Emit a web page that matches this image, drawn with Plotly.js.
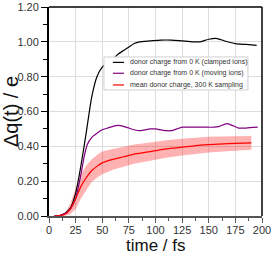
<!DOCTYPE html>
<html>
<head>
<meta charset="utf-8">
<script src="https://cdn.plot.ly/plotly-3.0.1.min.js"></script>
<style>html,body{margin:0;padding:0;background:#fff;}#chart{width:274px;height:254px;}</style>
</head>
<body>
<div id="chart"></div>
<script>
// clamped ions (black)
var tClamped = [5,10,15,20,25,30,35,40,45,50,55,60,65,70,75,80,85,95,105,115,125,135,142,150,157,165,175,185,195];
var qClamped = [0,0.003,0.015,0.045,0.13,0.29,0.48,0.68,0.80,0.855,0.88,0.90,0.93,0.95,0.97,0.99,1.0,1.005,1.01,1.01,1.005,1.0,1.0,1.015,1.02,1.005,0.99,0.985,0.98];
// moving ions (purple)
var tMoving = [5,10,15,20,25,30,33,36,40,45,50,55,60,65,70,75,80,85,90,95,100,105,110,115,120,125,135,145,155,160,167,172,178,185,196];
var qMoving = [0,0.003,0.015,0.04,0.10,0.24,0.34,0.41,0.45,0.475,0.495,0.505,0.515,0.52,0.515,0.505,0.495,0.49,0.495,0.50,0.50,0.495,0.49,0.49,0.50,0.51,0.51,0.51,0.51,0.515,0.53,0.52,0.505,0.505,0.51];
// mean over 300 K sampling (red) and its spread
var tMean = [5,10,15,20,25,30,35,40,45,50,60,70,80,90,100,110,125,140,150,160,175,190];
var qMean = [0,0.002,0.01,0.04,0.10,0.17,0.22,0.26,0.285,0.305,0.325,0.34,0.355,0.365,0.375,0.385,0.395,0.405,0.41,0.413,0.417,0.42];
var qSpread = [0,0.002,0.008,0.03,0.06,0.07,0.07,0.065,0.065,0.065,0.06,0.058,0.055,0.053,0.052,0.05,0.048,0.046,0.045,0.044,0.042,0.04];
var seriesNames = ["donor charge from 0 K (clamped ions)","donor charge from 0 K (moving ions)","mean donor charge, 300 K sampling"];
var seriesColors = ['#000000','#800080','#ff0000'];
var xTicks = [0,25,50,75,100,125,150,175,200];
var yTicks = [0,0.2,0.4,0.6,0.8,1.0,1.2];

var lower = qMean.map(function(v,i){return v - qSpread[i];});
var upper = qMean.map(function(v,i){return v + qSpread[i];});

var traces = [
  {x: tMean, y: lower, mode:'lines', line:{width:0, color:'rgba(0,0,0,0)'}, showlegend:false, hoverinfo:'skip'},
  {x: tMean, y: upper, mode:'lines', line:{width:0, color:'rgba(0,0,0,0)'}, fill:'tonexty', fillcolor:'rgba(255,0,0,0.3)', showlegend:false, hoverinfo:'skip'},
  {x: tClamped, y: qClamped, mode:'lines', name: seriesNames[0], line:{color:seriesColors[0], width:1.2, shape:'spline', smoothing:0.6}},
  {x: tMoving, y: qMoving, mode:'lines', name: seriesNames[1], line:{color:seriesColors[1], width:1.2, shape:'spline', smoothing:0.6}},
  {x: tMean, y: qMean, mode:'lines', name: seriesNames[2], line:{color:seriesColors[2], width:1.2, shape:'spline', smoothing:0.6}}
];

// custom compact legend (box + line samples + text)
var legX0 = 0.258, legX1 = 0.934, legY0 = 0.603, legY1 = 0.761;
var legRows = [0.735, 0.683, 0.627];
var shapes = [
  {type:'line', xref:'paper', yref:'paper', x0:0, x1:1, y0:1, y1:1, line:{color:'#000000', width:1.5}},
  {type:'line', xref:'paper', yref:'paper', x0:1, x1:1, y0:0, y1:1, line:{color:'#000000', width:1.5}},
  {type:'rect', xref:'paper', yref:'paper', x0:legX0, x1:legX1, y0:legY0, y1:legY1, fillcolor:'#ffffff', line:{color:'#d0d0d0', width:1}, layer:'above'}
];
var annotations = [
  {xref:'paper', yref:'paper', x:0.5, y:0, yshift:-19, xanchor:'center', yanchor:'top', showarrow:false, borderpad:0, text:'time / fs', font:{size:17, color:'#111111'}}
];
seriesNames.forEach(function(n,i){
  shapes.push({type:'line', xref:'paper', yref:'paper', x0:0.300, x1:0.352, y0:legRows[i], y1:legRows[i], line:{color:seriesColors[i], width:1.2}, layer:'above'});
  annotations.push({xref:'paper', yref:'paper', x:0.376, y:legRows[i], xanchor:'left', yanchor:'middle', showarrow:false, borderpad:0, text:n, font:{size:7, color:'#333333'}});
});

var layout = {
  width: 274, height: 254,
  margin: {l:49, r:12, t:7, b:38, pad:0},
  paper_bgcolor:'#ffffff', plot_bgcolor:'#ffffff',
  font: {family:'Liberation Sans, Arial, sans-serif', color:'#333333'},
  showlegend: false,
  xaxis: {
    range:[0,200], tickvals: xTicks, ticktext: xTicks.map(String),
    ticks:'outside', ticklen:5, tickwidth:1, tickcolor:'#555555', ticklabelstandoff:-2,
    showline:true, linecolor:'#555555', linewidth:2,
    showgrid:true, gridcolor:'#dddddd', gridwidth:1, zeroline:false,
    tickfont:{size:11, color:'#333333'},
    minor:{ticks:'outside', ticklen:3, tickcolor:'#555555', dtick:12.5, showgrid:false}
  },
  yaxis: {
    range:[0,1.2], tickvals: yTicks, ticktext: yTicks.map(function(v){return v.toFixed(2);}),
    ticks:'outside', ticklen:6, tickwidth:1, tickcolor:'#000000',
    showline:true, linecolor:'#000000', linewidth:2,
    showgrid:true, gridcolor:'#dddddd', gridwidth:1, zeroline:false,
    tickfont:{size:11, color:'#333333'},
    minor:{ticks:'outside', ticklen:4, tickcolor:'#000000', dtick:0.1, showgrid:false},
    title:{text:'Δq(t) / e', font:{size:20, color:'#111111'}, standoff:6}
  },
  shapes: shapes,
  annotations: annotations
};

Plotly.newPlot('chart', traces, layout, {displayModeBar:false, staticPlot:true});
</script>
</body>
</html>
